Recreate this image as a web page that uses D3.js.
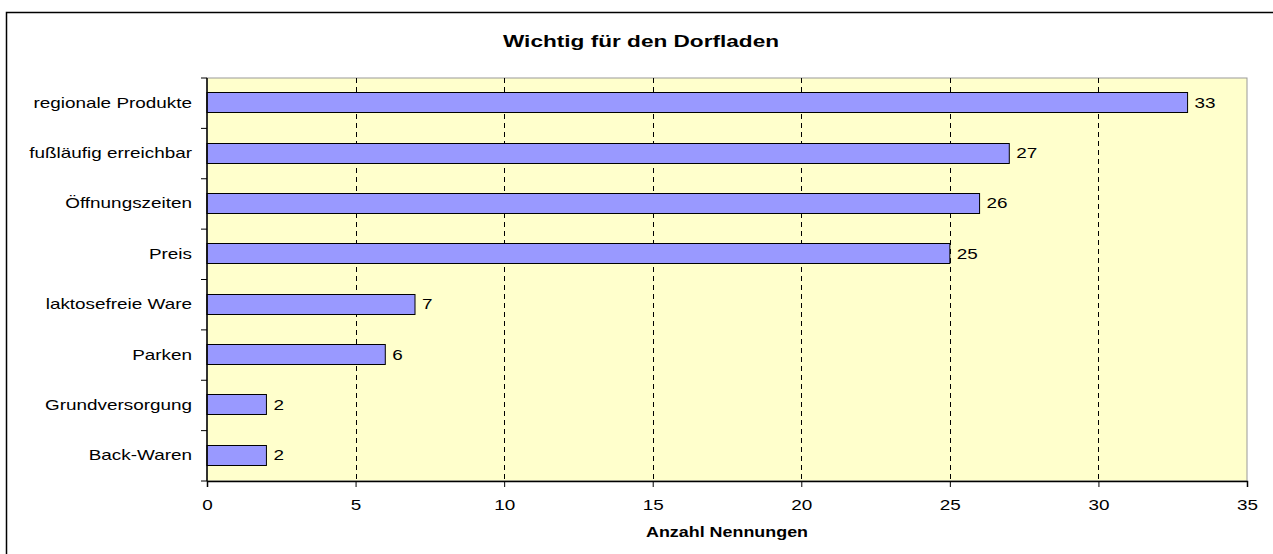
<!DOCTYPE html>
<html lang="de">
<head>
<meta charset="UTF-8">
<title>Wichtig für den Dorfladen</title>
<script src="https://cdn.jsdelivr.net/npm/d3@7"></script>
<style>
  body { margin: 0; background: #fff; }
  text { font-family: "Liberation Sans", Arial, sans-serif; fill: #000; }
</style>
</head>
<body>
<script>
  // data
  const categories = ["regionale Produkte", "fußläufig erreichbar", "Öffnungszeiten", "Preis",
                      "laktosefreie Ware", "Parken", "Grundversorgung", "Back-Waren"];
  const counts = [33, 27, 26, 25, 7, 6, 2, 2];
  const xTicks = [0, 5, 10, 15, 20, 25, 30, 35];

  const width = 1273, height = 554;
  const margin = {top: 78, right: 26, bottom: 73, left: 207};
  const sx = 1.35; // the original text is stretched horizontally

  const svg = d3.select("body").append("svg")
      .attr("width", width)
      .attr("height", height);

  // puts a horizontally stretched label at (px, py)
  function label(g, px, py, str, size, anchor, bold, s) {
    return g.append("text")
        .attr("transform", `translate(${px},${py}) scale(${s || sx},1)`)
        .attr("text-anchor", anchor)
        .attr("font-size", size)
        .attr("font-weight", bold ? "bold" : null)
        .text(str);
  }

  // outer chart frame (runs off the right and bottom edge)
  svg.append("rect")
      .attr("x", 6.5).attr("y", 12.5)
      .attr("width", width + 10).attr("height", height + 10)
      .attr("fill", "#fff").attr("stroke", "#000").attr("stroke-width", 1.5);

  const x = d3.scaleLinear().domain([0, 35]).range([margin.left, width - margin.right]);
  const yb = d3.scaleBand().domain(categories).range([margin.top, height - margin.bottom]);
  const barH = 20;

  // plot area
  svg.append("rect")
      .attr("x", x(0)).attr("y", margin.top)
      .attr("width", x(35) - x(0)).attr("height", height - margin.bottom - margin.top)
      .attr("fill", "#ffffcc").attr("stroke", "#999").attr("stroke-width", 1);

  // dashed grid
  svg.append("g")
    .selectAll("line")
    .data(xTicks.slice(1, -1))
    .join("line")
      .attr("x1", d => Math.round(x(d)) + 0.5).attr("x2", d => Math.round(x(d)) + 0.5)
      .attr("y1", margin.top).attr("y2", height - margin.bottom)
      .attr("stroke", "#000").attr("stroke-dasharray", "5,4");

  // bars
  svg.append("g")
    .selectAll("rect")
    .data(counts)
    .join("rect")
      .attr("x", x(0))
      .attr("y", (d, i) => Math.round(yb(categories[i]) + yb.bandwidth() / 2 - barH / 2) - 0.5)
      .attr("width", d => x(d) - x(0))
      .attr("height", barH)
      .attr("fill", "#9999ff").attr("stroke", "#000").attr("stroke-width", 1);

  // value labels
  const vals = svg.append("g");
  counts.forEach((d, i) => {
    label(vals, x(d) + 7, yb(categories[i]) + yb.bandwidth() / 2 + 4.5, d, 14, "start");
  });

  // x axis
  const xAxis = svg.append("g")
      .attr("transform", `translate(0,${height - margin.bottom})`)
      .call(d3.axisBottom(x).tickValues(xTicks).tickSize(6).tickPadding(13));
  xAxis.select(".domain").attr("stroke", "#000").attr("stroke-width", 1.5);
  xAxis.selectAll(".tick line").attr("stroke", "#000");
  xAxis.selectAll("text")
      .attr("font-size", 14)
      .attr("font-family", "Liberation Sans, Arial, sans-serif")
      .attr("transform", `scale(${sx},1)`);

  // y axis: ticks at band edges, labels centred
  const yAxis = svg.append("g").attr("transform", `translate(${x(0)},0)`);
  yAxis.append("line")
      .attr("y1", margin.top).attr("y2", height - margin.bottom)
      .attr("stroke", "#000").attr("stroke-width", 1.5);
  yAxis.selectAll("line.tick")
    .data(categories.map(c => yb(c)).concat([height - margin.bottom]))
    .join("line")
      .attr("class", "tick")
      .attr("x1", -6).attr("x2", 0)
      .attr("y1", d => d).attr("y2", d => d)
      .attr("stroke", "#000");
  categories.forEach(c => {
    label(yAxis, -15, yb(c) + yb.bandwidth() / 2 + 4.5, c, 14, "end");
  });

  // titles
  label(svg, 641, 47, "Wichtig für den Dorfladen", 17, "middle", true, 1.33);
  label(svg, (x(0) + x(35)) / 2, 537, "Anzahl Nennungen", 14, "middle", true, 1.28);
</script>
</body>
</html>
